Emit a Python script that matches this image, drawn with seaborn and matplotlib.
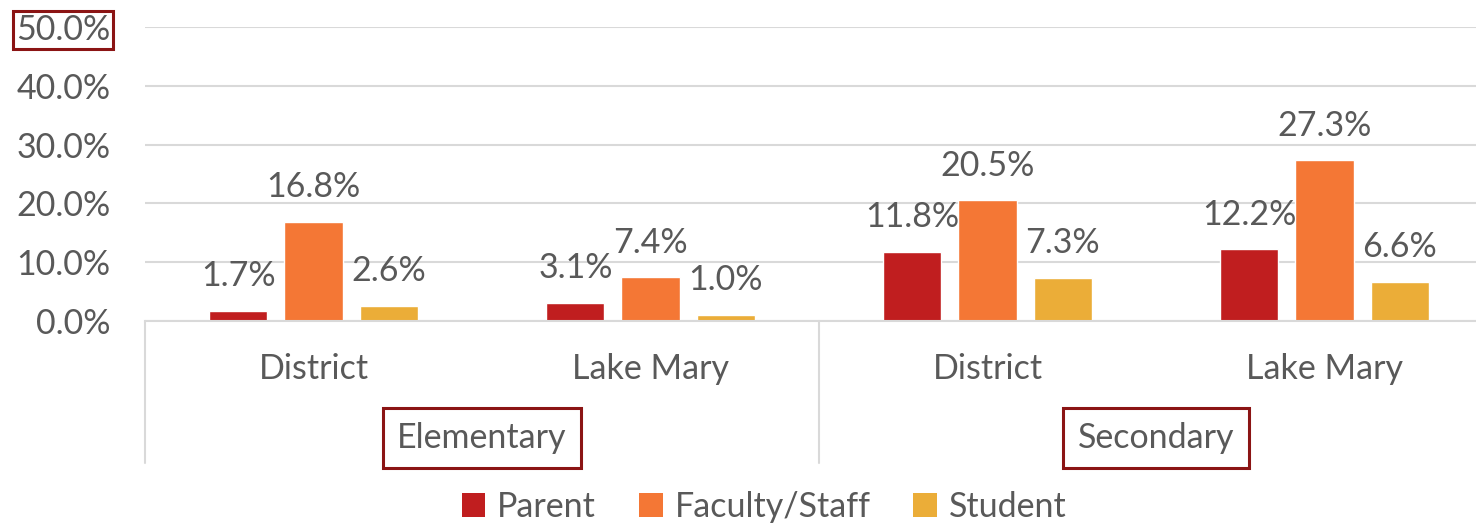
import matplotlib
matplotlib.use("Agg")
import matplotlib.pyplot as plt
import matplotlib.transforms as mtransforms
from matplotlib.patches import Patch
import seaborn as sns
import pandas as pd

# ---- data ----
levels = ["Elementary", "Elementary", "Secondary", "Secondary"]
sites = ["District", "Lake Mary", "District", "Lake Mary"]
groups = ["Parent", "Faculty/Staff", "Student"]
parent = [1.7, 3.1, 11.8, 12.2]
faculty = [16.8, 7.4, 20.5, 27.3]
student = [2.6, 1.0, 7.3, 6.6]
yticks = [0, 10, 20, 30, 40, 50]
colors = ["#C01E1F", "#F47735", "#EBAD38"]

rows = []
for i, (lv, st) in enumerate(zip(levels, sites)):
    for g, vals in zip(groups, [parent, faculty, student]):
        rows.append({"cat": f"{lv}|{st}", "group": g, "value": vals[i]})
df = pd.DataFrame(rows)
order = [f"{lv}|{st}" for lv, st in zip(levels, sites)]

sns.set_theme(style="white")
plt.rcParams["font.family"] = ["Lato", "DejaVu Sans"]
TXT = "#595959"
BOX = "#8B1414"
FS = 24.5

fig = plt.figure(figsize=(14.76, 5.27), dpi=100)
ax = fig.add_axes([145 / 1476, 1 - 321 / 527, (1493 - 145) / 1476, (321 - 27) / 527])

sns.barplot(data=df, x="cat", y="value", hue="group", order=order, hue_order=groups,
            palette=colors, width=0.668, gap=0.227, ax=ax, legend=False,
            saturation=1, errorbar=None)

ax.set_ylim(0, 50)
ax.set_xlim(-0.5, 3.5)
ax.set_yticks(yticks)
ax.set_yticklabels([f"{v:.1f}%" for v in yticks], fontsize=FS, color=TXT)
ax.set_xticks(range(4))
ax.set_xticklabels(sites, fontsize=FS, color=TXT)
ax.tick_params(axis="both", length=0)
ax.tick_params(axis="y", pad=25)
ax.tick_params(axis="x", pad=23)
ax.set_xlabel("")
ax.set_ylabel("")
ax.yaxis.grid(True, color="#D9D9D9", linewidth=1.5)
ax.set_axisbelow(True)
for s in ["top", "right", "left"]:
    ax.spines[s].set_visible(False)
ax.spines["bottom"].set_color("#D9D9D9")
ax.spines["bottom"].set_linewidth(1.5)

# box around the 50.0% tick label
lbl = ax.get_yticklabels()[-1]
lbl.set_bbox(dict(facecolor="none", edgecolor=BOX, linewidth=2.2, boxstyle="square,pad=0.08"))

# data labels
for cont in ax.containers:
    for bar in cont:
        h = bar.get_height()
        ax.annotate(f"{h:.1f}%", (bar.get_x() + bar.get_width() / 2, h),
                    xytext=(0, 25), textcoords="offset points",
                    ha="center", va="center", fontsize=FS, color=TXT)

# separators between groups
trans = mtransforms.blended_transform_factory(ax.transData, ax.transAxes)
bottom_frac = -(463 - 321) / (321 - 27)
for xs in [-0.5, 1.5, 3.5]:
    ax.plot([xs, xs], [0, bottom_frac], transform=trans, color="#D9D9D9",
            linewidth=1.5, clip_on=False)

# group labels
for xc, lv in [(0.5, "Elementary"), (2.5, "Secondary")]:
    ax.text(xc, -(438 - 321) / (321 - 27), lv, transform=trans, ha="center", va="center",
            fontsize=FS, color=TXT,
            bbox=dict(facecolor="white", edgecolor=BOX, linewidth=2.2,
                      boxstyle="square,pad=0.42"))

# legend
handles = [Patch(facecolor=c, edgecolor="none") for c in colors]
fig.legend(handles, groups, loc="center", bbox_to_anchor=(764 / 1476, 1 - 507 / 527),
           ncol=3, frameon=False, fontsize=FS, labelcolor=TXT,
           handlelength=0.7, handleheight=0.7, handletextpad=0.35, columnspacing=1.25)

fig.savefig("out.png", dpi=100, facecolor="white")
